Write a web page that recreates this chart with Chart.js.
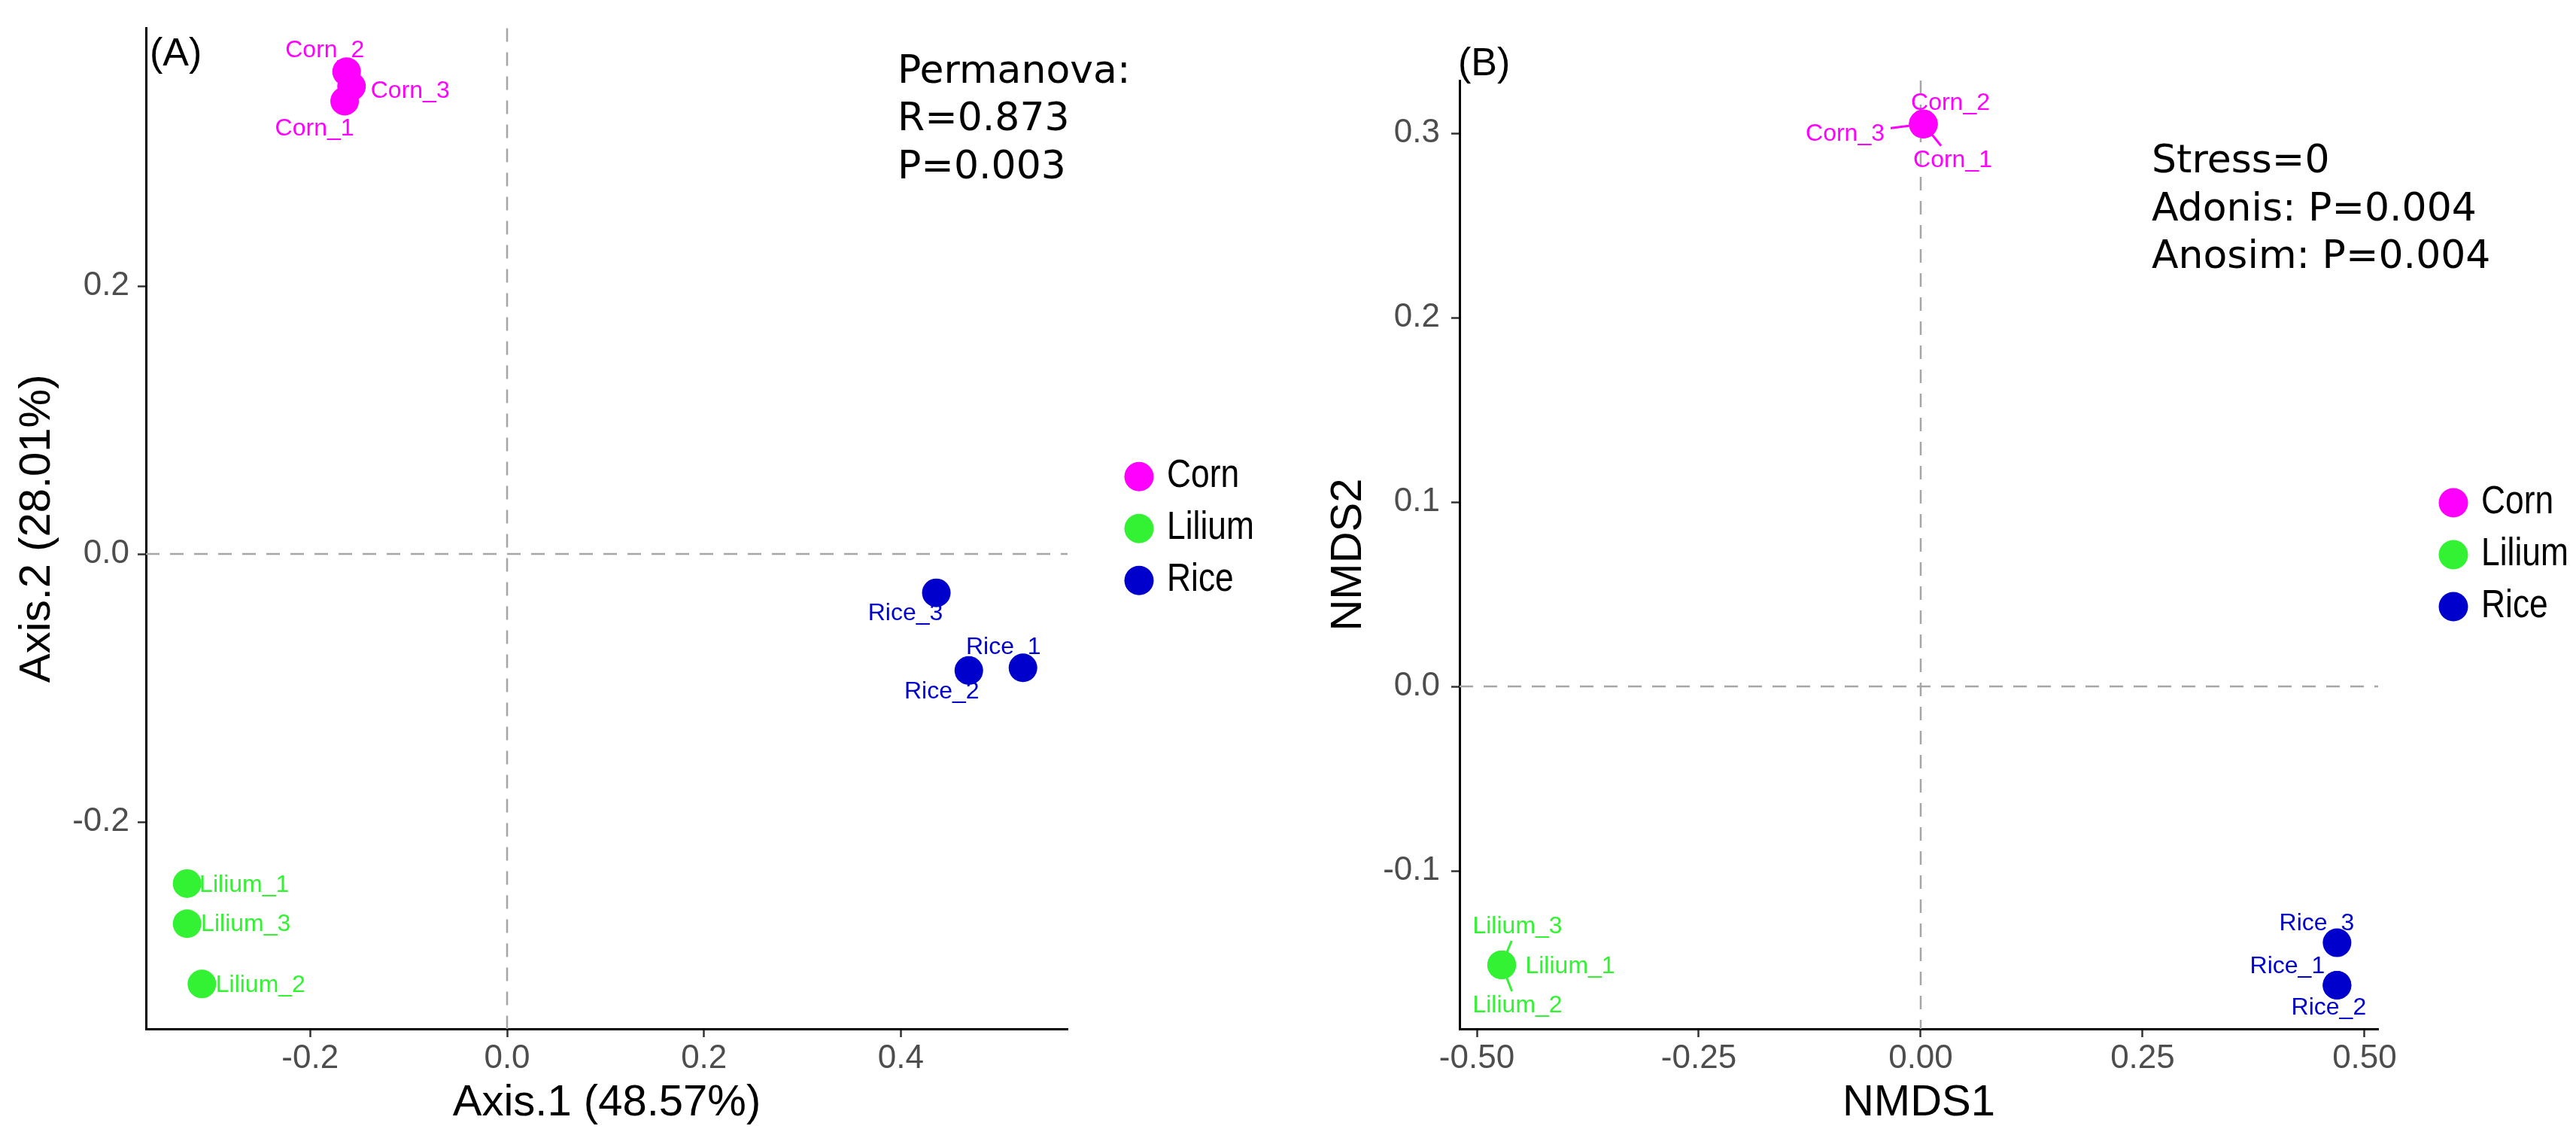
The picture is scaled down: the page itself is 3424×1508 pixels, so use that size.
<!DOCTYPE html>
<html>
<head>
<meta charset="utf-8">
<script src="https://cdn.jsdelivr.net/npm/chart.js@4.4.1/dist/chart.umd.min.js"></script>
<style>
  html, body { margin: 0; padding: 0; background: #fff; }
  body { width: 3424px; height: 1508px; position: relative; overflow: hidden; }
  .panel { position: absolute; top: 0; height: 1508px; }
  #panelA { left: 0; width: 1700px; }
  #panelB { left: 1700px; width: 1724px; }
</style>
</head>
<body>
<div class="panel" id="panelA"><canvas id="pcoa" width="1700" height="1508" style="width:1700px;height:1508px"></canvas></div>
<div class="panel" id="panelB"><canvas id="nmds" width="1724" height="1508" style="width:1724px;height:1508px"></canvas></div>
<script>
// groups
let groups = ['Corn', 'Lilium', 'Rice'];
let groupCol = ['#FF00FF', '#33F233', '#0000CD'];

let cornNames = ['Corn_1', 'Corn_2', 'Corn_3'];
let liliumNames = ['Lilium_1', 'Lilium_2', 'Lilium_3'];
let riceNames = ['Rice_1', 'Rice_2', 'Rice_3'];

// (A) PCoA scores [Axis.1, Axis.2]
let pcoaCorn = [[-0.165, 0.338], [-0.163, 0.360], [-0.158, 0.349]];
let pcoaLilium = [[-0.325, -0.246], [-0.310, -0.321], [-0.325, -0.276]];
let pcoaRice = [[0.524, -0.085], [0.469, -0.087], [0.436, -0.029]];
let pcoaXTicks = [-0.2, 0.0, 0.2, 0.4];
let pcoaYTicks = [-0.2, 0.0, 0.2];

// (B) NMDS scores [NMDS1, NMDS2]
let nmdsCorn = [[0.003, 0.305], [0.003, 0.305], [0.003, 0.305]];
let nmdsLilium = [[-0.472, -0.151], [-0.472, -0.151], [-0.472, -0.151]];
let nmdsRice = [[0.469, -0.162], [0.469, -0.162], [0.469, -0.139]];
let nmdsXTicks = [-0.5, -0.25, 0.0, 0.25, 0.5];
let nmdsYTicks = [-0.1, 0.0, 0.1, 0.2, 0.3];

// label placement (px from point, draw segment?)
let pcoaLabelOff = [
    [[-40, 37, 0], [-29, -28, 0], [78, 6, 0]],
    [[76, 2, 0], [78, 2, 0], [78, 1, 0]],
    [[-26, -27, 0], [-36, 28, 0], [-41, 28, 0]]
];
let nmdsLabelOff = [
    [[39, 48, 1], [36, -28, 0], [-104, 13, 1]],
    [[91, 2, 0], [21, 54, 1], [21, -51, 1]],
    [[-66, -25, 0], [-11, 30, 0], [-27, -25, 0]]
];

let sans = 'Liberation Sans, Arial, sans-serif';
let noteFont = 'DejaVu Sans, Verdana, sans-serif';

let extras = {
    id: 'extras',
    beforeDatasetsDraw(chart, args, o) {
        let ctx = chart.ctx, a = chart.chartArea;
        let x0 = chart.scales.x.getPixelForValue(0);
        let y0 = chart.scales.y.getPixelForValue(0);
        ctx.save();
        ctx.strokeStyle = '#A6A6A6';
        ctx.lineWidth = 2.5;
        ctx.setLineDash([18, 14]);
        ctx.beginPath();
        ctx.moveTo(x0, a.top); ctx.lineTo(x0, a.bottom);
        ctx.moveTo(a.left, y0); ctx.lineTo(a.right, y0);
        ctx.stroke();
        ctx.setLineDash([]);
        // repel segments
        ctx.font = '32px ' + sans;
        ctx.lineWidth = 3;
        chart.data.datasets.forEach((ds, i) => {
            chart.getDatasetMeta(i).data.forEach((pt, j) => {
                let off = o.offsets[i][j];
                if (!off[2]) return;
                let lx = pt.x + off[0], ly = pt.y + off[1];
                let vx = pt.x - lx, vy = pt.y - ly;
                let hw = ctx.measureText(o.names[i][j]).width / 2 + 8, hh = 19;
                let s = Math.min(vx ? hw / Math.abs(vx) : 1e9, vy ? hh / Math.abs(vy) : 1e9);
                ctx.strokeStyle = ds.backgroundColor;
                ctx.beginPath();
                ctx.moveTo(pt.x, pt.y);
                ctx.lineTo(lx + vx * s, ly + vy * s);
                ctx.stroke();
            });
        });
        ctx.restore();
    },
    afterDatasetsDraw(chart, args, o) {
        let ctx = chart.ctx;
        ctx.save();
        ctx.font = '32px ' + sans;
        ctx.textAlign = 'center';
        ctx.textBaseline = 'middle';
        chart.data.datasets.forEach((ds, i) => {
            ctx.fillStyle = ds.backgroundColor;
            chart.getDatasetMeta(i).data.forEach((pt, j) => {
                let off = o.offsets[i][j];
                ctx.fillText(o.names[i][j], pt.x + off[0], pt.y + off[1]);
            });
        });
        ctx.restore();
    },
    afterDraw(chart, args, o) {
        let ctx = chart.ctx, a = chart.chartArea;
        ctx.save();
        // legend
        let mid = (a.top + a.bottom) / 2;
        chart.data.datasets.forEach((ds, i) => {
            let cy = mid + (i - 1) * 69;
            let cx = a.right + o.legendDx;
            ctx.fillStyle = ds.backgroundColor;
            ctx.beginPath();
            ctx.arc(cx, cy, 19.5, 0, Math.PI * 2);
            ctx.fill();
            ctx.save();
            ctx.fillStyle = '#000';
            ctx.font = '51px ' + sans;
            ctx.textAlign = 'left';
            ctx.textBaseline = 'middle';
            ctx.translate(cx + 37, cy);
            ctx.scale(0.87, 1);
            ctx.fillText(ds.label, 0, 0);
            ctx.restore();
        });
        // panel tag
        ctx.font = '52px ' + sans;
        ctx.fillStyle = '#000';
        ctx.textAlign = 'left';
        ctx.textBaseline = 'middle';
        ctx.fillText(o.tag[0], o.tag[1], o.tag[2]);
        // statistics
        ctx.font = '52px ' + noteFont;
        ctx.textBaseline = 'alphabetic';
        o.notes.forEach((t, k) => {
            ctx.fillText(t, o.noteX, o.noteY[k]);
        });
        ctx.restore();
    }
};

function init(id, sets, names, offsets, xTicks, yTicks, dx, dy, xTitle, yTitle, box, extra) {
    let datasets = sets.map((pts, i) => ({
        label: groups[i],
        data: pts.map(p => ({x: p[0], y: p[1]})),
        backgroundColor: groupCol[i],
        borderColor: groupCol[i],
        borderWidth: 0,
        pointRadius: 19,
        pointHoverRadius: 19
    }));
    extra.names = names;
    extra.offsets = offsets;
    let tickFont = {family: sans, size: 44};
    let titleFont = {family: sans, size: 58};
    return new Chart(document.getElementById(id), {
        type: 'scatter',
        data: {datasets: datasets},
        options: {
            responsive: false,
            animation: false,
            events: [],
            clip: false,
            layout: {padding: box.pad},
            plugins: {
                legend: {display: false},
                tooltip: {enabled: false},
                extras: extra
            },
            scales: {
                x: {
                    type: 'linear', position: 'bottom',
                    min: box.xMin, max: box.xMax,
                    afterBuildTicks: s => { s.ticks = xTicks.map(v => ({value: v})); },
                    afterFit: s => { s.height = box.xH; },
                    ticks: {color: '#4D4D4D', font: tickFont, padding: 2, maxRotation: 0, autoSkip: false,
                        callback: v => Number(v).toFixed(dx)},
                    grid: {drawOnChartArea: false, drawTicks: true, tickLength: 11, tickColor: '#333', tickWidth: 2.5},
                    border: {display: true, color: '#000', width: 3},
                    title: {display: true, text: xTitle, color: '#000', font: titleFont, padding: {top: 0, bottom: 7}}
                },
                y: {
                    type: 'linear', position: 'left',
                    min: box.yMin, max: box.yMax,
                    afterBuildTicks: s => { s.ticks = yTicks.map(v => ({value: v})); },
                    afterFit: s => { s.width = box.yW; },
                    ticks: {color: '#4D4D4D', font: tickFont, padding: box.yTickPad, autoSkip: false,
                        callback: v => Number(v).toFixed(dy)},
                    grid: {drawOnChartArea: false, drawTicks: true, tickLength: 11, tickColor: '#333', tickWidth: 2.5},
                    border: {display: true, color: '#000', width: 3},
                    title: {display: true, text: yTitle, color: '#000', font: titleFont, padding: {top: box.yTitlePad, bottom: 0}}
                }
            }
        },
        plugins: [extras]
    });
}

var pcoa = init('pcoa', [pcoaCorn, pcoaLilium, pcoaRice], [cornNames, liliumNames, riceNames], pcoaLabelOff,
    pcoaXTicks, pcoaYTicks, 1, 1, 'Axis.1 (48.57%)', 'Axis.2 (28.01%)',
    {pad: {left: 0, top: 30, right: 281, bottom: 0}, xMin: -0.3668, xMax: 0.5693, yMin: -0.3545, yMax: 0.3925,
     xH: 141, yW: 194, yTickPad: 11, yTitlePad: 15},
    {legendDx: 95, tag: ['(A)', 199, 73], notes: ['Permanova:', 'R=0.873', 'P=0.003'], noteX: 1193, noteY: [110, 173, 237]});

var nmds = init('nmds', [nmdsCorn, nmdsLilium, nmdsRice], [cornNames, liliumNames, riceNames], nmdsLabelOff,
    nmdsXTicks, nmdsYTicks, 2, 1, 'NMDS1', 'NMDS2',
    {pad: {left: 0, top: 107, right: 263, bottom: 0}, xMin: -0.5195, xMax: 0.5153, yMin: -0.1857, yMax: 0.3286,
     xH: 141, yW: 240, yTickPad: 15, yTitlePad: 58},
    {legendDx: 100, tag: ['(B)', 238, 86], notes: ['Stress=0', 'Adonis: P=0.004', 'Anosim: P=0.004'], noteX: 1160, noteY: [229, 293, 356]});
</script>
</body>
</html>
